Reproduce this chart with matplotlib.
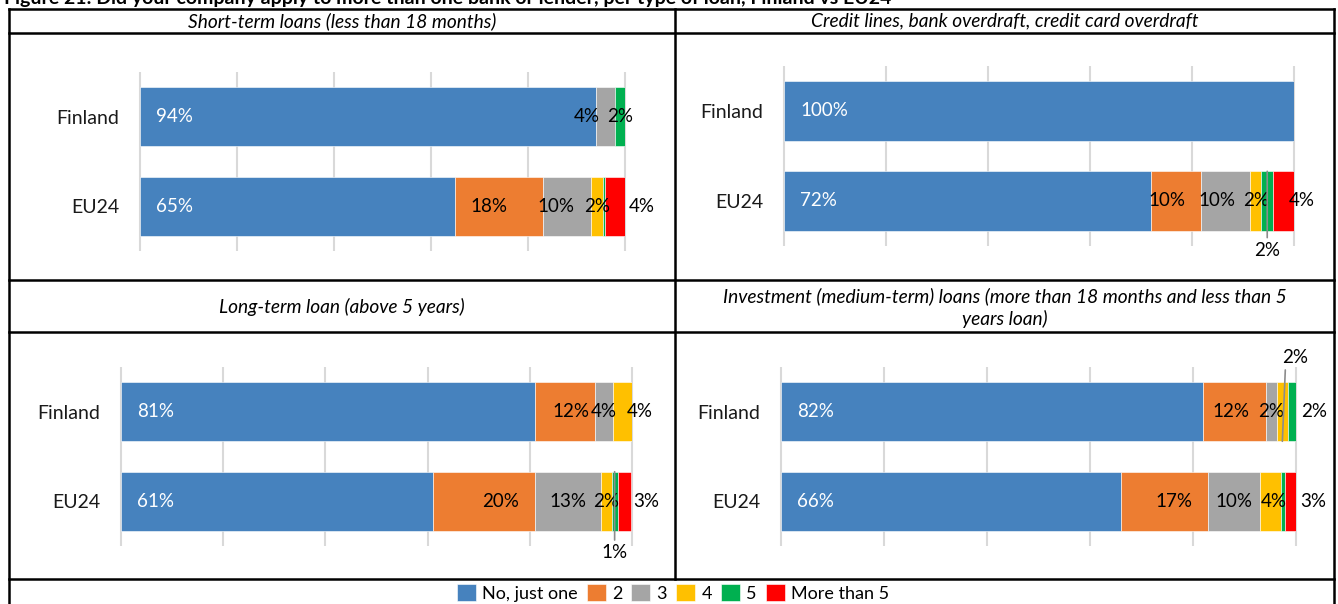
import matplotlib.pyplot as plt
from matplotlib.patches import Patch
from matplotlib.lines import Line2D

W, H = 1338, 604

series = ['No, just one', '2', '3', '4', '5', 'More than 5']
colors = ['#4682BE', '#ED7D31', '#A5A5A5', '#FFC000', '#00B050', '#FF0000']
countries = ['EU24', 'Finland']

titles = [
    'Short-term loans (less than 18 months)',
    'Credit lines, bank overdraft, credit card overdraft',
    'Long-term loan (above 5 years)',
    'Investment (medium-term) loans (more than 18 months and less than 5\nyears loan)',
]

# shares in %, order follows `series`
short_fi = [94, 0, 4, 0, 2, 0]
short_eu = [65, 18, 10, 2.4, 0.4, 4.2]
credit_fi = [100, 0, 0, 0, 0, 0]
credit_eu = [72, 9.8, 9.6, 2.2, 2.3, 4.1]
long_fi = [81, 11.7, 3.6, 3.7, 0, 0]
long_eu = [61, 20, 13, 2, 1.2, 2.6]
invest_fi = [82, 12.2, 2.1, 2.1, 2, 0]
invest_eu = [66, 17, 10, 4, 0.8, 3]

panels = [
    {'EU24': short_eu, 'Finland': short_fi},
    {'EU24': credit_eu, 'Finland': credit_fi},
    {'EU24': long_eu, 'Finland': long_fi},
    {'EU24': invest_eu, 'Finland': invest_fi},
]

# plot area of each panel in pixels: left, top, right, bottom
boxes = [(140, 72, 625, 251), (784, 66, 1294, 246),
         (121, 367, 632, 546), (781, 367, 1296, 546)]
title_xy = [(342, 21), (1005, 21), (342, 307), (1005, 308)]

# label nudges in pixels (dx, dy), keyed by panel, country, series index
nudge = {
    (0, 'Finland', 2): (-19, 0), (0, 'EU24', 1): (-10, 0), (0, 'EU24', 2): (-11, 0),
    (0, 'EU24', 5): (27, 0),
    (1, 'EU24', 1): (-9, 0), (1, 'EU24', 2): (-9, 0), (1, 'EU24', 5): (18, 0),
    (2, 'Finland', 1): (6, 0), (2, 'Finland', 3): (17, 0), (2, 'EU24', 1): (17, 0),
    (2, 'EU24', 5): (22, 0),
    (3, 'Finland', 1): (-4, 0), (3, 'Finland', 4): (21, 0), (3, 'EU24', 1): (9, 0),
    (3, 'EU24', 3): (4, 0), (3, 'EU24', 5): (21, 0),
}
# labels moved off the bar with a leader line: offset from the bar edge, line start on label
leader = {(1, 'EU24', 4): (0, 79, 'top', (0.5, 1)),
          (2, 'EU24', 4): (0, 81, 'top', (0.5, 1)),
          (3, 'Finland', 3): (13, -84, 'bottom', (0.12, 0))}

plt.rcParams['font.family'] = ['Lato', 'DejaVu Sans']
k = 0.72  # px -> points at 100 dpi
bar_h = 0.66

fig = plt.figure(figsize=(W / 100, H / 100), dpi=100)

for p, data in enumerate(panels):
    l, t, r, b = boxes[p]
    ax = fig.add_axes([l / W, 1 - b / H, (r - l) / W, (b - t) / H])
    ax.set_xlim(0, 1)
    ax.set_ylim(-0.5, 1.5)
    ticks = [0, 0.2, 0.4, 0.6, 0.8, 1.0]
    ax.vlines(ticks, -0.5, 1.5, color='#d9d9d9', lw=1.5, zorder=0, clip_on=False)
    for s in ax.spines.values():
        s.set_visible(False)
    ax.set_xticks([])
    ax.set_yticks(range(len(countries)), countries)
    ax.tick_params(axis='y', length=0, pad=15, labelsize=14, labelcolor='#1a1a1a')

    for row, c in enumerate(countries):
        vals = [v / 100 for v in data[c]]
        left = 0
        for i, v in enumerate(vals):
            if v > 0:
                ax.barh(row, v, left=left, height=bar_h, color=colors[i],
                        edgecolor='white', linewidth=0.4, zorder=2)
            xc = left + v / 2
            left += v
            if v <= 0:
                continue
            txt = f'{round(v * 100)}%'
            if i == 0:
                ax.annotate(txt, (0, row), xytext=(16 * k, 0), textcoords='offset points',
                            ha='left', va='center', color='white', fontsize=13.5, zorder=4)
                continue
            if v < 0.01:
                continue
            if (p, c, i) in leader:
                dx, dy, edge, rel = leader[(p, c, i)]
                ey = row + bar_h / 2 if edge == 'top' else row - bar_h / 2
                ax.annotate(txt, (xc, ey), xytext=(dx * k, -dy * k),
                            textcoords='offset points', ha='center', va='center',
                            fontsize=13.5, color='black', zorder=4,
                            arrowprops=dict(arrowstyle='-', color='#8c8c8c', lw=1.2,
                                            shrinkA=1, shrinkB=0, relpos=rel))
                continue
            dx, dy = nudge.get((p, c, i), (0, 0))
            ax.annotate(txt, (xc, row), xytext=(dx * k, -dy * k), textcoords='offset points',
                        ha='center', va='center', fontsize=13.5, color='black', zorder=4)

    tx, ty = title_xy[p]
    fig.text(tx / W, 1 - ty / H, titles[p], ha='center', va='center', fontsize=13.8,
             style='italic', linespacing=1.3)

# table rules
lw = 1.8
for y in [9, 33, 280, 332, 579]:
    fig.add_artist(Line2D([9 / W, 1334 / W], [1 - y / H, 1 - y / H], color='black', lw=lw))
for x, y0, y1 in [(9, 9, 604), (675, 9, 579), (1334, 9, 604)]:
    fig.add_artist(Line2D([x / W, x / W], [1 - y0 / H, 1 - y1 / H], color='black', lw=lw))

# figure title, cut off by the top edge in the source
fig.text(4 / W, 1 - 4 / H,
         'Figure 21: Did your company apply to more than one bank or lender, per type of loan, Finland vs EU24',
         ha='left', va='baseline', fontsize=14, fontweight='bold')

handles = [Patch(facecolor=col, edgecolor='white', linewidth=0.4) for col in colors]
fig.legend(handles, series, loc='center', bbox_to_anchor=(673 / W, 1 - 593 / H), ncol=6,
           frameon=False, fontsize=13, handlelength=1.05, handleheight=1.05,
           handletextpad=0.35, columnspacing=0.5, borderpad=0)

fig.savefig('out.png', dpi=100)
